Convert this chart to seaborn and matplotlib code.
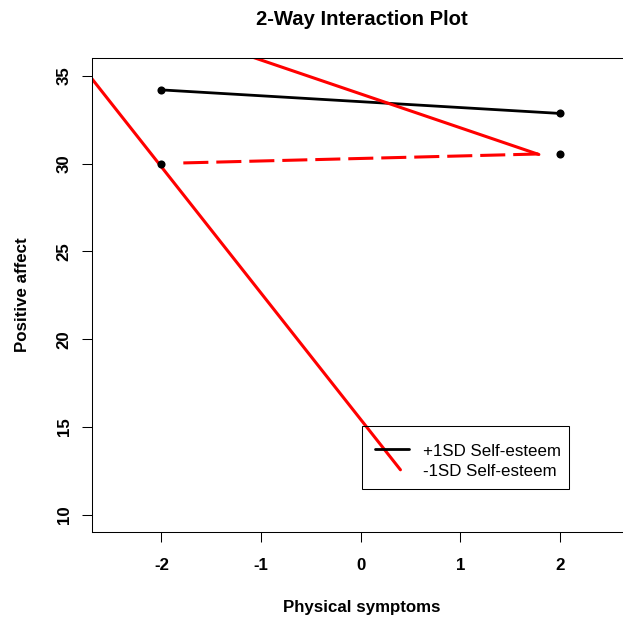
import matplotlib
matplotlib.use("Agg")
import matplotlib.pyplot as plt
from matplotlib.lines import Line2D
from matplotlib.patches import Rectangle
import seaborn as sns

# Simple-slope values (Positive affect at -2SD / +2SD of Physical symptoms)
symptom_levels = [-2, 2]
high_esteem = [34.2, 32.86]
low_esteem = [29.98, 30.57]

# Dashed -1SD segment
low_dash_x = [-1.78, 1.79]
low_dash_y = [30.04, 30.55]

# Solid red segments
red_a_x = [-2.7, 0.40]
red_a_y = [34.85, 12.56]
red_b_x = [-1.3, 1.79]
red_b_y = [36.48, 30.52]

x_ticks = [-2, -1, 0, 1, 2]
y_ticks = [10, 15, 20, 25, 30, 35]
legend_labels = ["+1SD Self-esteem", "-1SD Self-esteem"]

sns.set_style("ticks")
plt.rcParams["font.family"] = ["Liberation Sans", "DejaVu Sans"]
plt.rcParams["text.color"] = "black"
plt.rcParams["axes.labelcolor"] = "black"
plt.rcParams["xtick.color"] = "black"
plt.rcParams["ytick.color"] = "black"
plt.rcParams["axes.edgecolor"] = "black"

W, H = 623, 617
fig = plt.figure(figsize=(W / 100, H / 100), dpi=100)
left, right, top, bottom = 91.7, 629.5, 58.3, 532.3
ax = fig.add_axes([left / W, (H - bottom) / H, (right - left) / W, (bottom - top) / H])

sns.lineplot(x=symptom_levels, y=high_esteem, ax=ax, color="black", linewidth=2.0,
             estimator=None, sort=False)
sns.lineplot(x=low_dash_x, y=low_dash_y, ax=ax, color="red", linewidth=2.2,
             estimator=None, sort=False)
ax.lines[-1].set_dashes([8.2, 2.6])
sns.lineplot(x=red_a_x, y=red_a_y, ax=ax, color="red", linewidth=2.2,
             estimator=None, sort=False)
sns.lineplot(x=red_b_x, y=red_b_y, ax=ax, color="red", linewidth=2.2,
             estimator=None, sort=False)
sns.scatterplot(x=symptom_levels + symptom_levels, y=high_esteem + low_esteem, ax=ax,
                color="black", s=34, edgecolor="black", linewidth=0, zorder=5)

ax.set_xlim(-2.7, 2.7)
ax.set_ylim(9, 36)
ax.set_xticks(x_ticks)
ax.set_yticks(y_ticks)
ax.set_xticklabels([str(v) for v in x_ticks], fontsize=12.2, fontweight="bold", color="black")
ax.set_yticklabels([str(v) for v in y_ticks], fontsize=12.2, fontweight="bold", color="black",
                   rotation=90, va="center")
ax.tick_params(axis="x", length=7.5, width=0.75, pad=11, colors="black")
ax.tick_params(axis="y", length=7.5, width=0.75, pad=6.8, colors="black")
for sp in ax.spines.values():
    sp.set_visible(True)
    sp.set_linewidth(0.75)
    sp.set_color("black")
ax.set_xlabel("")
ax.set_ylabel("")

# Title and axis labels
fig.text(362 / W, (H - 25) / H, "2-Way Interaction Plot", ha="center", va="baseline",
         fontsize=14.6, fontweight="bold", color="black")
fig.text(362 / W, (H - 612) / H, "Physical symptoms", ha="center", va="baseline",
         fontsize=12.2, fontweight="bold", color="black")
fig.text(26.7 / W, (H - 295) / H, "Positive affect", ha="center", va="baseline",
         rotation=90, rotation_mode="anchor", fontsize=12.2, fontweight="bold", color="black")

# Legend box (unfilled)
lx0, lx1, ly0, ly1 = 361.7, 569, 425.7, 489
fig.add_artist(Rectangle((lx0 / W, (H - ly1) / H), (lx1 - lx0) / W, (ly1 - ly0) / H,
                         transform=fig.transFigure, fill=False, edgecolor="black",
                         linewidth=0.75))
fig.add_artist(Line2D([375 / W, 409.3 / W], [(H - 449) / H] * 2,
                      transform=fig.transFigure, color="black", linewidth=2.0))
fig.text(422.7 / W, (H - 456) / H, legend_labels[0], ha="left", va="baseline",
         fontsize=12.2, color="black")
fig.text(422.7 / W, (H - 475.7) / H, legend_labels[1], ha="left", va="baseline",
         fontsize=12.2, color="black")

fig.savefig("out.png", dpi=100)
